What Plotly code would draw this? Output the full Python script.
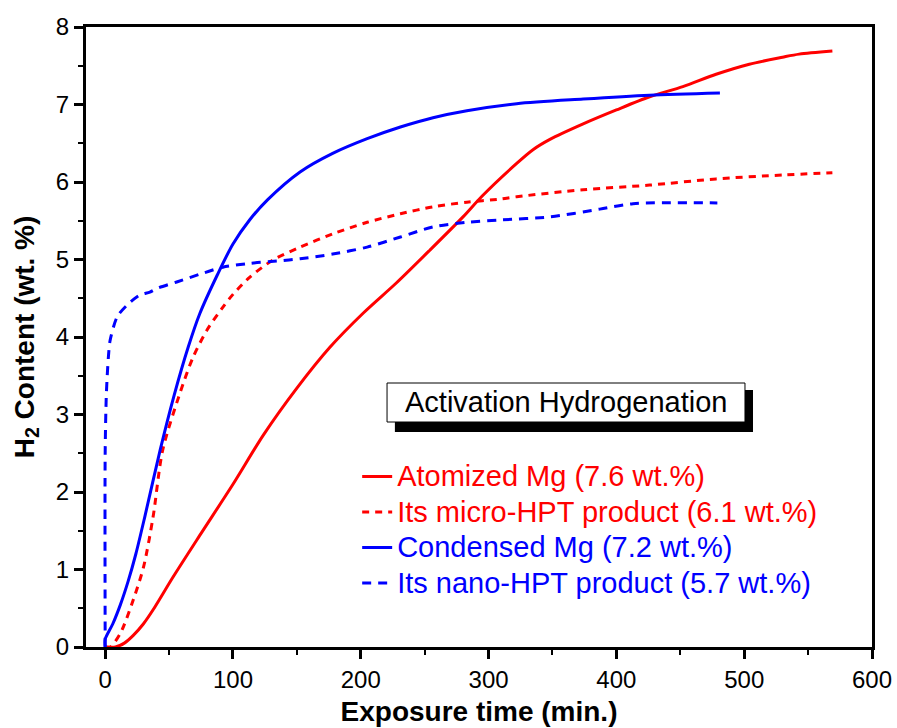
import plotly.graph_objects as go

# Hydrogen uptake during activation hydrogenation (exposure time in min, H2 in wt.%)
t_atomized = [0, 8, 15, 22, 30, 37.5, 53, 74, 100, 124, 150, 176, 202, 228, 254, 280, 295,
              322, 335, 348, 374, 400, 426, 452, 478, 504, 530, 543, 569]
h_atomized = [0, 0, 0.05, 0.15, 0.30, 0.48, 0.90, 1.44, 2.10, 2.74, 3.34, 3.87, 4.31, 4.70, 5.12, 5.55, 5.82,
              6.24, 6.42, 6.55, 6.75, 6.93, 7.10, 7.23, 7.39, 7.52, 7.61, 7.65, 7.69]

t_micro = [0, 4, 12, 22, 30, 37.5, 45, 58.6, 68.8, 79.7, 92.3, 100, 113, 131, 152.5, 178,
           205, 231, 256.5, 283, 309, 322, 374, 426, 478, 530, 569]
h_micro = [0, 0, 0.18, 0.61, 1.03, 1.68, 2.54, 3.28, 3.74, 4.09, 4.39, 4.55, 4.77, 4.99, 5.16, 5.33,
           5.48, 5.59, 5.68, 5.74, 5.78, 5.81, 5.90, 5.96, 6.04, 6.09, 6.12]

t_condensed = [0, 0, 6, 12, 18, 24, 31, 43, 54, 65, 74, 88, 100, 113, 127, 152.5, 178, 205, 231,
               256.5, 283, 322, 374, 426, 481]
h_condensed = [0, 0.1, 0.30, 0.55, 0.85, 1.20, 1.68, 2.54, 3.25, 3.87, 4.30, 4.81, 5.20, 5.51, 5.77, 6.13, 6.37,
               6.56, 6.71, 6.83, 6.92, 7.01, 7.07, 7.12, 7.15]

t_nano = [0, 0, 0.8, 1.6, 2.8, 3.9, 9.4, 17, 27, 35, 41, 56, 74, 92, 113, 134.5, 152.5, 178,
          205, 231, 256.5, 283, 309, 348, 387, 413, 479]
h_nano = [0, 2.5, 3.2, 3.5, 3.8, 3.96, 4.26, 4.41, 4.54, 4.58, 4.63, 4.71, 4.81, 4.90, 4.95, 4.98,
          5.01, 5.07, 5.16, 5.29, 5.42, 5.48, 5.51, 5.55, 5.65, 5.72, 5.73]

series_names = ["Atomized Mg (7.6 wt.%)", "Its micro-HPT product (6.1 wt.%)",
                "Condensed Mg (7.2 wt.%)", "Its nano-HPT product (5.7 wt.%)"]

x_ticks = [0, 100, 200, 300, 400, 500, 600]
y_ticks = [0, 1, 2, 3, 4, 5, 6, 7, 8]

RED = "#FF0000"
BLUE = "#0000FF"
FONT = "Arial, Liberation Sans, sans-serif"

fig = go.Figure()
styles = [
    (t_atomized, h_atomized, RED, "solid"),
    (t_micro, h_micro, RED, "7px,6px"),
    (t_condensed, h_condensed, BLUE, "solid"),
    (t_nano, h_nano, BLUE, "9px,7px"),
]
for name, (tx, hy, col, dash) in zip(series_names, styles):
    fig.add_trace(go.Scatter(
        x=tx, y=hy, mode="lines",
        line=dict(color=col, width=3, dash=dash, shape="spline", smoothing=0.8),
        name=f"<span style='color:{col};font-size:29px'>{name}</span>",
    ))

axis_common = dict(
    showline=True, linecolor="black", linewidth=3, mirror=True,
    ticks="outside", ticklen=9, tickwidth=3, tickcolor="black",
    showgrid=False, zeroline=False, automargin=False,
    tickfont=dict(family=FONT, size=24, color="black"),
)

fig.update_xaxes(
    range=[-15, 600], tickvals=x_ticks,
    minor=dict(dtick=50, ticks="outside", ticklen=5, tickwidth=2, tickcolor="black"),
    title=dict(text="Exposure time (min.)", font=dict(family=FONT, size=28, color="black", weight="bold"), standoff=10),
    **axis_common,
)
fig.update_yaxes(
    range=[0, 8], tickvals=y_ticks,
    minor=dict(dtick=0.5, ticks="outside", ticklen=5, tickwidth=2, tickcolor="black"),
    title=dict(text="H<sub>2</sub> Content (wt. %)", font=dict(family=FONT, size=28, color="black", weight="bold"), standoff=14),
    **axis_common,
)

# Label box with a drop shadow
fig.add_shape(type="rect", xref="paper", yref="paper", x0=0.393, x1=0.8486, y0=0.3468, y1=0.4145,
              fillcolor="black", line=dict(width=0), layer="above")
fig.add_shape(type="rect", xref="paper", yref="paper", x0=0.383, x1=0.8384, y0=0.3629, y1=0.4258,
              fillcolor="white", line=dict(color="black", width=1), layer="above")
fig.add_annotation(xref="paper", yref="paper", x=0.6107, y=0.3944, text="Activation Hydrogenation",
                   showarrow=False, font=dict(family=FONT, size=29, color="black"))

fig.update_layout(
    width=897, height=728,
    margin=dict(l=86, r=25, t=27, b=81),
    plot_bgcolor="white", paper_bgcolor="white",
    font=dict(family=FONT, color="black"),
    legend=dict(x=0.345, y=0.3115, xanchor="left", yanchor="top", bgcolor="rgba(0,0,0,0)",
                font=dict(family=FONT, size=25), tracegroupgap=0),
)

fig.write_html("out.html")
